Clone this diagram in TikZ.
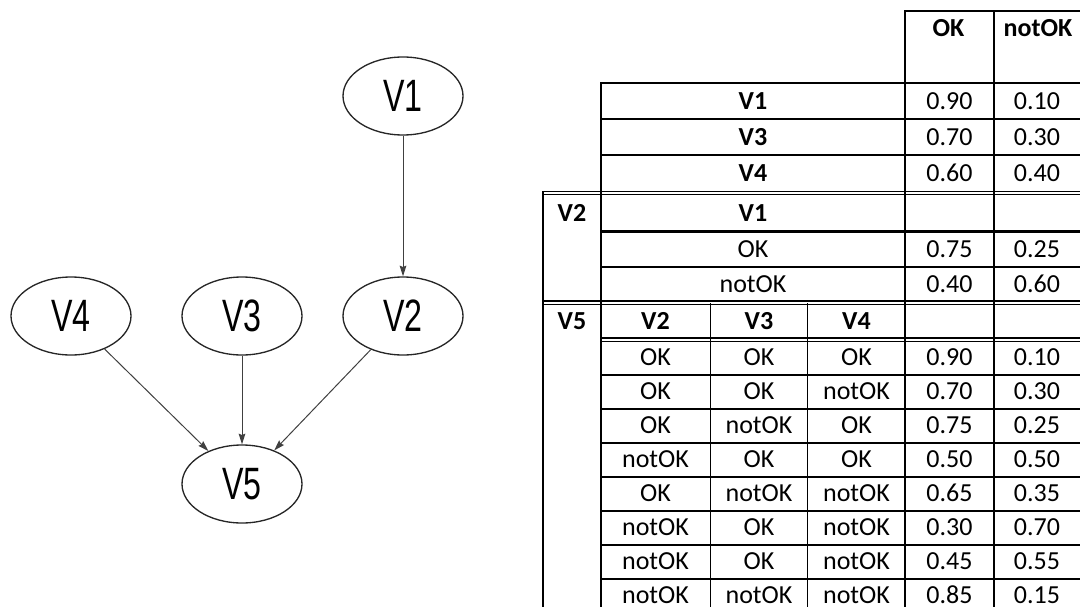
\documentclass[tikz,border=0pt]{standalone}
\usepackage{fontspec}
\usepackage{graphicx}
\setmainfont{Carlito}
\newfontfamily\nodefont{Liberation Sans}
\usetikzlibrary{arrows.meta,shapes.geometric}
\tikzset{
  var/.style={draw=black!85, line width=1pt, ellipse, inner sep=0pt,
    minimum width=90pt, minimum height=58.5pt,
    font=\nodefont\fontsize{34}{34}\selectfont},
  edge/.style={draw=black!75, line width=0.75pt, -{Stealth[length=8pt,width=5pt,inset=1pt]}},
  tline/.style={line width=1.4pt, line cap=rect},
  dline/.style={line width=1.1pt},
  thline/.style={line width=2.3pt},
  cell/.style={anchor=base, inner sep=0pt, font=\fontsize{19.5}{21}\selectfont},
  hcell/.style={cell, font=\fontsize{19.5}{21}\selectfont\bfseries},
}
\newcommand{\vlab}[1]{\scalebox{0.71}[1]{#1}}
\begin{document}
\begin{tikzpicture}[x=0.75pt,y=-0.75pt]
\useasboundingbox (0,0) rectangle (1080,606);
\clip (0,0) rectangle (1080,606);

% ---------------- graph ----------------
\node[var] (v1) at (403,96) {\vlab{V1}};
\node[var] (v4) at (71,316) {\vlab{V4}};
\node[var] (v3) at (242,316) {\vlab{V3}};
\node[var] (v2) at (403,316) {\vlab{V2}};
\node[var] (v5) at (242,484) {\vlab{V5}};
\draw[edge] (v1) -- (v2);
\draw[edge] (v4) -- (v5);
\draw[edge] (v3) -- (v5);
\draw[edge] (v2) -- (v5);

% ---------------- table lines ----------------
\def\R{1095}
% verticals
\draw[tline] (905,10.7) -- (905,620);
\draw[tline] (994,10.7) -- (994,620);
\draw[tline] (601,82.7) -- (601,620);
\draw[tline] (543,191.7) -- (543,620);
\draw[tline] (710.5,304) -- (710.5,620);
\draw[tline] (807.5,304) -- (807.5,620);
% horizontals
\draw[tline] (905,10.7) -- (\R,10.7);
\draw[tline] (601,82.7) -- (\R,82.7);
\draw[tline] (601,119) -- (\R,119);
\draw[tline] (601,155.3) -- (\R,155.3);
\draw[dline] (543,191.7) -- (\R,191.7);
\draw[dline] (543,194.6) -- (\R,194.6);
\draw[thline] (601,231.7) -- (\R,231.7);
\draw[tline] (601,266.7) -- (\R,266.7);
\draw[dline] (543,301.2) -- (\R,301.2);
\draw[dline] (543,304.3) -- (\R,304.3);
\draw[dline] (601,338.2) -- (\R,338.2);
\draw[dline] (601,341.5) -- (\R,341.5);
\foreach \y in {375,409,443,477,511,545,579}
  \draw[tline] (601,\y) -- (\R,\y);

% ---------------- table text ----------------
\node[hcell] (hok) at (948.5,36.7) {OK};
\node[hcell] (hnot) at (1038,36.7) {notOK};

\node[hcell] (r1) at (753,109.3) {V1};
\node[cell] (r1a) at (949.5,109.3) {0.90};
\node[cell] (r1b) at (1037,109.3) {0.10};
\node[hcell] (r2) at (753,145.6) {V3};
\node[cell] (r2a) at (949.5,145.6) {0.70};
\node[cell] (r2b) at (1037,145.6) {0.30};
\node[hcell] (r3) at (753,181.9) {V4};
\node[cell] (r3a) at (949.5,181.9) {0.60};
\node[cell] (r3b) at (1037,181.9) {0.40};

\node[hcell] (lv2) at (572,221.5) {V2};
\node[hcell] (hv1) at (753,221.5) {V1};
\node[cell] (s1) at (753,257.6) {OK};
\node[cell] (s1a) at (949.5,257.6) {0.75};
\node[cell] (s1b) at (1037,257.6) {0.25};
\node[cell] (s2) at (753,292.2) {notOK};
\node[cell] (s2a) at (949.5,292.2) {0.40};
\node[cell] (s2b) at (1037,292.2) {0.60};

\node[hcell] (lv5) at (572,329.8) {V5};
\node[hcell] (h2) at (655.5,329.8) {V2};
\node[hcell] (h3) at (759,329.8) {V3};
\node[hcell] (h4) at (856.5,329.8) {V4};

\foreach \a/\b/\c/\p/\q [count=\i] in {
  OK/OK/OK/0.90/0.10,
  OK/OK/notOK/0.70/0.30,
  OK/notOK/OK/0.75/0.25,
  notOK/OK/OK/0.50/0.50,
  OK/notOK/notOK/0.65/0.35,
  notOK/OK/notOK/0.30/0.70,
  notOK/OK/notOK/0.45/0.55,
  notOK/notOK/notOK/0.85/0.15}{
  \pgfmathsetmacro{\yy}{358.3+(\i-1)*33.9+7.4}
  \node[cell] (t\i a) at (655.5,\yy) {\a};
  \node[cell] (t\i b) at (759,\yy) {\b};
  \node[cell] (t\i c) at (856.5,\yy) {\c};
  \node[cell] (t\i p) at (949.5,\yy) {\p};
  \node[cell] (t\i q) at (1037,\yy) {\q};
}
\end{tikzpicture}
\end{document}
